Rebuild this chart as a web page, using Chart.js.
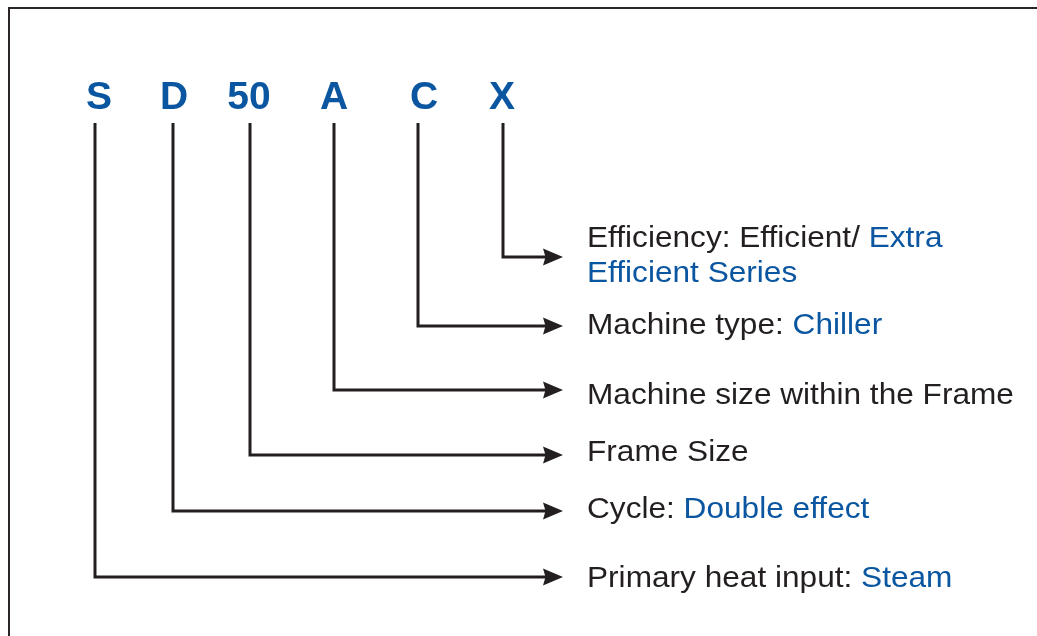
<!DOCTYPE html>
<html>
<head>
<meta charset="utf-8">
<script src="https://cdn.jsdelivr.net/npm/chart.js@4.4.1/dist/chart.umd.min.js"></script>
<style>
  html, body { margin: 0; padding: 0; background: #ffffff; }
  #wrap { width: 1037px; height: 636px; position: relative; }
</style>
</head>
<body>
<div id="wrap"><canvas id="c" width="1037" height="636"></canvas></div>
<script>
// ---- data ----
const codes      = ['S', 'D', '50', 'A', 'C', 'X'];
const codeTextX  = [99, 174, 249, 334, 424, 502];
const stemX      = [95, 173, 250, 334, 418, 503];
const levelY     = [577, 511, 455, 390, 326, 257];
const blackParts = ['Primary heat input: ', 'Cycle: ', 'Frame Size', 'Machine size within the Frame', 'Machine type: ', 'Efficiency: Efficient/ '];
const blueParts  = ['Steam', 'Double effect', '', '', 'Chiller', 'Extra'];
const extraLine  = ['', '', '', '', '', 'Efficient Series'];
const labelBaseY = [587, 518, 461, 404, 334, 247];
const extraBaseY = [0, 0, 0, 0, 0, 282];

const stemTopY = 123;
const arrowTipX = 563;
const arrowLen = 20;
const labelX = 587;
const codeBaseY = 109;
const labelStretch = 1.09;

const DARK = '#231f20';
const BLUE = '#0a56a0';

const datasets = codes.map((c, i) => ({
  label: c,
  data: [
    { x: stemX[i], y: stemTopY },
    { x: stemX[i], y: levelY[i] },
    { x: arrowTipX - arrowLen + 4, y: levelY[i] }
  ],
  showLine: true,
  borderColor: DARK,
  borderWidth: 3,
  pointRadius: 0,
  fill: false,
  tension: 0,
  borderJoinStyle: 'miter',
  borderCapStyle: 'butt'
}));

const diagramPlugin = {
  id: 'diagram',
  beforeDraw(chart) {
    const ctx = chart.ctx;
    const xs = chart.scales.x, ys = chart.scales.y;
    ctx.save();
    ctx.fillStyle = '#ffffff';
    ctx.fillRect(0, 0, chart.width, chart.height);
    ctx.strokeStyle = '#2a2627';
    ctx.lineWidth = 2;
    ctx.beginPath();
    ctx.moveTo(xs.getPixelForValue(9), ys.getPixelForValue(636));
    ctx.lineTo(xs.getPixelForValue(9), ys.getPixelForValue(8));
    ctx.lineTo(xs.getPixelForValue(1037), ys.getPixelForValue(8));
    ctx.stroke();
    ctx.restore();
  },
  afterDatasetsDraw(chart) {
    const ctx = chart.ctx;
    const xs = chart.scales.x, ys = chart.scales.y;
    ctx.save();
    // arrowheads
    ctx.fillStyle = DARK;
    chart.data.datasets.forEach((ds, i) => {
      const meta = chart.getDatasetMeta(i);
      const last = meta.data[meta.data.length - 1];
      const y = last.y;
      const tip = xs.getPixelForValue(arrowTipX);
      const back = tip - arrowLen;
      ctx.beginPath();
      ctx.moveTo(tip, y);
      ctx.lineTo(back, y - 8.5);
      ctx.lineTo(back + 2.5, y);
      ctx.lineTo(back, y + 8.5);
      ctx.closePath();
      ctx.fill();
    });
    // code letters
    ctx.fillStyle = BLUE;
    ctx.font = 'bold 39px "Liberation Sans", Arial, Helvetica, sans-serif';
    ctx.textAlign = 'center';
    ctx.textBaseline = 'alphabetic';
    codes.forEach((c, i) => {
      ctx.fillText(c, xs.getPixelForValue(codeTextX[i]), ys.getPixelForValue(codeBaseY));
    });
    // labels (slightly widened to match the reference typeface)
    ctx.font = '29px "Liberation Sans", Arial, Helvetica, sans-serif';
    ctx.textAlign = 'left';
    const drawStretched = (txt, x, y) => {
      ctx.save();
      ctx.translate(x, y);
      ctx.scale(labelStretch, 1);
      ctx.fillText(txt, 0, 0);
      ctx.restore();
    };
    codes.forEach((c, i) => {
      const x0 = xs.getPixelForValue(labelX);
      const y0 = ys.getPixelForValue(labelBaseY[i]);
      ctx.fillStyle = DARK;
      drawStretched(blackParts[i], x0, y0);
      const w = ctx.measureText(blackParts[i]).width * labelStretch;
      if (blueParts[i]) {
        ctx.fillStyle = BLUE;
        drawStretched(blueParts[i], x0 + w, y0);
      }
      if (extraLine[i]) {
        ctx.fillStyle = BLUE;
        drawStretched(extraLine[i], x0, ys.getPixelForValue(extraBaseY[i]));
      }
    });
    ctx.restore();
  }
};

new Chart(document.getElementById('c'), {
  type: 'scatter',
  data: { datasets },
  options: {
    responsive: false,
    animation: false,
    devicePixelRatio: 1,
    layout: { padding: 0 },
    plugins: { legend: { display: false }, tooltip: { enabled: false }, title: { display: false } },
    scales: {
      x: { type: 'linear', min: 0, max: 1037, display: false },
      y: { type: 'linear', min: 0, max: 636, reverse: true, display: false }
    },
    elements: { line: { borderWidth: 3 } }
  },
  plugins: [diagramPlugin]
});
</script>
</body>
</html>
